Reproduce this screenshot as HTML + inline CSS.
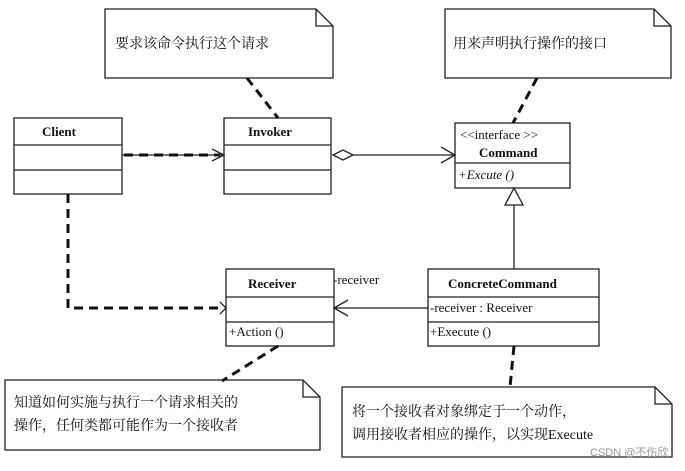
<!DOCTYPE html>
<html><head><meta charset="utf-8"><style>
body{margin:0;background:#fff}
svg text{font-family:"Liberation Serif","Noto Serif CJK SC","Noto Sans CJK SC",serif;fill:#111}
</style></head><body>
<svg width="685" height="466" viewBox="0 0 685 466" xmlns="http://www.w3.org/2000/svg">
<g fill="none" stroke="#222" stroke-width="1.3">
<!-- notes -->
<path d="M105 9H316L333 26V78H105Z"/><path d="M316 9V26H333"/>
<path d="M445 9H654L671 26V78H445Z"/><path d="M654 9V26H671"/>
<path d="M5 380H303L320 397V450H5Z"/><path d="M303 380V397H320"/>
<path d="M342 387H655L672 404V457H342Z"/><path d="M655 387V404H672"/>
<!-- classes -->
<rect x="14" y="118" width="108" height="76"/><path d="M14 145H122M14 170H122"/>
<rect x="224" y="118" width="107" height="76"/><path d="M224 145H331M224 170H331"/>
<rect x="455" y="123" width="115" height="65"/><path d="M455 163H570"/>
<rect x="226" y="269" width="108" height="77"/><path d="M226 297H334M226 322H334"/>
<rect x="428" y="269" width="171" height="77"/><path d="M428 297H599M428 322H599"/>
<!-- solid connectors -->
<path d="M353 155H455M441 147L455 155L441 163"/>
<path d="M333 155L343 150L353 155L343 160Z" fill="#fff"/>
<path d="M514 205V269"/><path d="M514 188L505 205H523Z" fill="#fff"/>
<path d="M428 308H334M348 300L334 308L348 316"/>
<path d="M122 155H224M212 149L224 155L212 161"/>
<path d="M220 302L226 308L220 314"/>
</g>
<g fill="none" stroke="#111" stroke-width="3" stroke-dasharray="9,6">
<path d="M247 78L278 118"/><path d="M537 78L513 123"/>
<path d="M124 155H220"/>
<path d="M68 194V308H224"/>
<path d="M278 346L222 381"/><path d="M514 346L510 387"/>
</g>
<g font-size="14">
<text x="115" y="48">要求该命令执行这个请求</text>
<text x="453" y="48">用来声明执行操作的接口</text>
<text x="14" y="407">知道如何实施与执行一个请求相关的</text>
<text x="14" y="430">操作，任何类都可能作为一个接收者</text>
<text x="352" y="416">将一个接收者对象绑定于一个动作，</text>
<text x="352" y="439">调用接收者相应的操作，以实现Execute</text>
</g>
<g font-size="13" font-weight="bold">
<text x="42" y="136">Client</text>
<text x="248" y="136">Invoker</text>
<text x="479" y="157">Command</text>
<text x="248" y="288">Receiver</text>
<text x="448" y="288">ConcreteCommand</text>
</g>
<g font-size="13">
<text x="460" y="139">&lt;&lt;interface &gt;&gt;</text>
<text x="458" y="179" font-style="italic">+Excute ()</text>
<text x="229" y="336">+Action ()</text>
<text x="430" y="312">-receiver  : Receiver</text>
<text x="430" y="336">+Execute ()</text>
<text x="333" y="284">-receiver</text>
</g>
<text x="590" y="456" font-size="11" style="fill:#999;font-family:'Liberation Sans','Noto Sans CJK SC',sans-serif">CSDN @不伤欣</text>
</svg>
</body></html>
